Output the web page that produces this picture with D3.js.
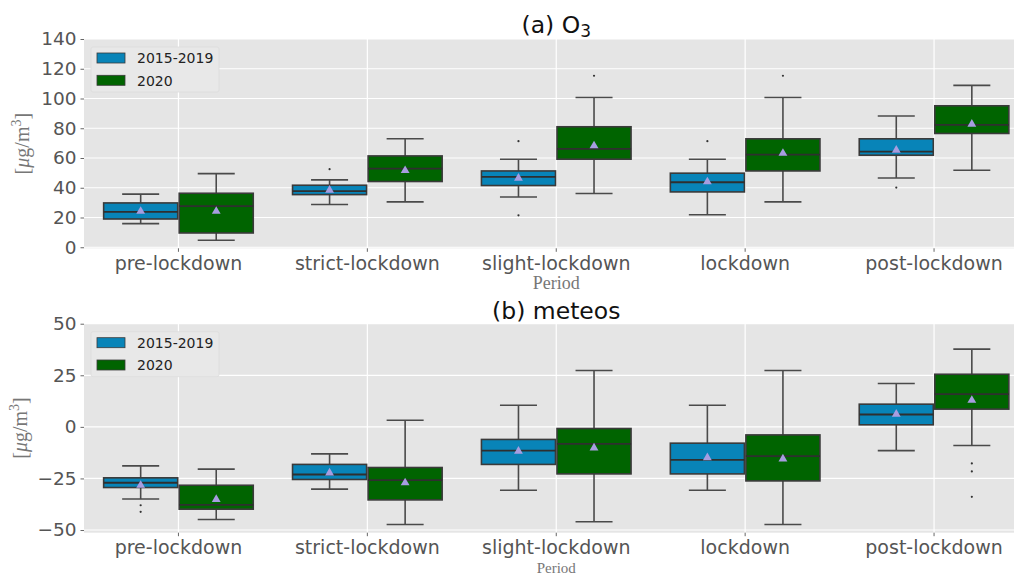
<!DOCTYPE html>
<html>
<head>
<meta charset="utf-8">
<script src="https://cdn.jsdelivr.net/npm/d3@7"></script>
<style>
  html, body { margin: 0; padding: 0; background: #fff; }
  svg { display: block; }
</style>
</head>
<body>
<svg id="chart" width="1014" height="574"></svg>
<script>
// Periods and series
const periods = ["pre-lockdown", "strict-lockdown", "slight-lockdown", "lockdown", "post-lockdown"];
const seriesNames = ["2015-2019", "2020"];
const seriesColors = ["#0884b8", "#006400"];

// Box statistics per period: [whiskerLow, q1, median, q3, whiskerHigh]
const o3Base  = [[15.9, 19.0, 23.8, 29.8, 35.7], [28.7, 35.4, 37.7, 41.7, 45.3], [33.8, 41.5, 47.3, 51.3, 59.2], [21.9, 37.2, 43.7, 49.8, 59.2], [46.6, 61.9, 64.3, 72.9, 88.2]];
const o3Y2020 = [[4.7, 9.6, 27.6, 36.3, 49.5], [30.5, 44.2, 52.9, 61.4, 72.9], [36.1, 59.2, 66.2, 81.0, 100.7], [30.5, 51.3, 62.3, 72.9, 100.7], [51.8, 76.5, 82.3, 95.1, 108.8]];
const o3BaseMean  = [24.2, 38.4, 46.4, 44.0, 65.3];
const o3Y2020Mean = [24.2, 51.6, 68.2, 63.2, 82.8];
const o3BaseOutliers  = [[], [52.5], [71.3, 21.5], [71.3], [40.1]];
const o3Y2020Outliers = [[], [], [115.3], [115.3], []];
const o3Ticks = [0, 20, 40, 60, 80, 100, 120, 140];

const metBase  = [[-35.0, -29.4, -27.1, -24.7, -18.9], [-30.2, -25.5, -23.1, -18.2, -13.1], [-30.7, -18.2, -11.5, -6.1, 10.5], [-30.7, -22.8, -16.0, -7.9, 10.5], [-11.5, 1.0, 6.0, 11.0, 21.0]];
const metY2020 = [[-44.9, -39.9, -37.8, -28.3, -20.5], [-47.3, -35.4, -25.8, -19.7, 3.2], [-46.0, -22.8, -8.2, -0.8, 27.3], [-47.3, -26.2, -14.2, -3.9, 27.3], [-9.0, 8.6, 15.9, 25.5, 37.7]];
const metBaseMean  = [-28.3, -22.3, -11.8, -14.9, 6.2];
const metY2020Mean = [-35.2, -27.1, -10.2, -15.5, 12.9];
const metBaseOutliers  = [[-38.0, -41.2], [], [], [], []];
const metY2020Outliers = [[], [], [], [], [-17.7, -21.6, -33.9]];
const metTicks = [-50, -25, 0, 25, 50];

const svg = d3.select("#chart");
const tickFont = "DejaVu Sans, sans-serif";
const serifFont = "Liberation Serif, DejaVu Serif, serif";

function drawPanel(cfg) {
  const { top, bottom, domain, ticks, stats, means, outliers, titleMain, titleSub, titleY,
          yLabelX, periodY, periodSize, tickLabelY, legendTop } = cfg;
  const left = 84, right = 1028.5;

  const x = d3.scaleBand().domain(periods).range([left, right]).paddingInner(0).paddingOuter(0);
  const xHue = d3.scaleBand().domain(seriesNames).range([0.1 * x.bandwidth(), 0.9 * x.bandwidth()]);
  const y = d3.scaleLinear().domain(domain).range([bottom, top]);

  const g = svg.append("g");

  // Plot background
  g.append("rect")
    .attr("x", left).attr("y", top)
    .attr("width", right - left).attr("height", bottom - top)
    .attr("fill", "#e5e5e5");

  // Grid lines
  g.append("g").selectAll("line").data(ticks).join("line")
    .attr("x1", left).attr("x2", right)
    .attr("y1", d => y(d)).attr("y2", d => y(d))
    .attr("stroke", "#fff").attr("stroke-width", 1.2);
  g.append("g").selectAll("line").data(periods).join("line")
    .attr("x1", d => x(d) + x.bandwidth() / 2).attr("x2", d => x(d) + x.bandwidth() / 2)
    .attr("y1", top).attr("y2", bottom)
    .attr("stroke", "#fff").attr("stroke-width", 1.2);

  // Axes
  const yAxis = d3.axisLeft(y).tickValues(ticks).tickSize(3.5).tickPadding(4)
    .tickFormat(d => d < 0 ? "\u2212" + Math.abs(d) : String(d));
  const ya = g.append("g").attr("transform", `translate(${left},0)`).call(yAxis);
  ya.select(".domain").remove();
  ya.selectAll(".tick line").attr("stroke", "#666");
  ya.selectAll(".tick text").attr("fill", "#555").style("font-family", tickFont).style("font-size", "18.5px");

  const xAxis = d3.axisBottom(x).tickSize(3.5).tickPadding(0);
  const xa = g.append("g").attr("transform", `translate(0,${bottom})`).call(xAxis);
  xa.select(".domain").remove();
  xa.selectAll(".tick line").attr("stroke", "#666");
  xa.selectAll(".tick text").attr("fill", "#555").attr("dy", null).attr("y", tickLabelY - bottom)
    .style("font-family", tickFont).style("font-size", "19px");

  // Boxes
  seriesNames.forEach((s, si) => {
    const boxW = xHue.bandwidth() * 0.98;
    const capW = boxW / 2;
    const sg = g.append("g");
    const rows = periods.map((p, i) => ({ p, st: stats[si][i], mean: means[si][i], out: outliers[si][i] }));
    const cx = d => x(d.p) + xHue(s) + xHue.bandwidth() / 2;

    const item = sg.selectAll("g").data(rows).join("g");
    // whiskers
    item.append("line").attr("x1", cx).attr("x2", cx)
      .attr("y1", d => y(d.st[0])).attr("y2", d => y(d.st[1]))
      .attr("stroke", "#4a4a4a").attr("stroke-width", 1.6);
    item.append("line").attr("x1", cx).attr("x2", cx)
      .attr("y1", d => y(d.st[3])).attr("y2", d => y(d.st[4]))
      .attr("stroke", "#4a4a4a").attr("stroke-width", 1.6);
    // caps
    [0, 4].forEach(k => {
      item.append("line")
        .attr("x1", d => cx(d) - capW / 2).attr("x2", d => cx(d) + capW / 2)
        .attr("y1", d => y(d.st[k])).attr("y2", d => y(d.st[k]))
        .attr("stroke", "#4a4a4a").attr("stroke-width", 1.6);
    });
    // box
    item.append("rect")
      .attr("x", d => cx(d) - boxW / 2).attr("width", boxW)
      .attr("y", d => y(d.st[3])).attr("height", d => y(d.st[1]) - y(d.st[3]))
      .attr("fill", seriesColors[si]).attr("stroke", "#3a3a3a").attr("stroke-width", 1.6);
    // median
    item.append("line")
      .attr("x1", d => cx(d) - boxW / 2).attr("x2", d => cx(d) + boxW / 2)
      .attr("y1", d => y(d.st[2])).attr("y2", d => y(d.st[2]))
      .attr("stroke", "#2f2f2f").attr("stroke-width", 1.8);
    // mean marker
    item.append("path")
      .attr("d", d3.symbol(d3.symbolTriangle, 34))
      .attr("transform", d => `translate(${cx(d)},${y(d.mean)})`)
      .attr("fill", "#a79de0");
    // outliers
    item.selectAll("circle").data(d => d.out.map(v => ({ v, c: cx(d) }))).join("circle")
      .attr("cx", d => d.c).attr("cy", d => y(d.v)).attr("r", 1.1)
      .attr("fill", "#333");
  });

  // Legend
  const lg = g.append("g").attr("transform", `translate(91,${legendTop})`);
  lg.append("rect").attr("width", 128).attr("height", 45).attr("rx", 2)
    .attr("fill", "#e8e8e8").attr("stroke", "#dcdcdc").attr("stroke-width", 0.8);
  seriesNames.forEach((s, i) => {
    lg.append("rect").attr("x", 6).attr("y", 6 + i * 22.3).attr("width", 28).attr("height", 10)
      .attr("fill", seriesColors[i]).attr("stroke", "#3a3a3a").attr("stroke-width", 0.8);
    lg.append("text").attr("x", 46).attr("y", 16.3 + i * 22.3).text(s)
      .attr("fill", "#222").style("font-family", tickFont).style("font-size", "14px");
  });

  // Title
  const t = g.append("text").attr("x", (left + right) / 2).attr("y", titleY)
    .attr("text-anchor", "middle").attr("fill", "#111")
    .style("font-family", tickFont).style("font-size", "23.5px");
  t.append("tspan").text(titleMain);
  if (titleSub) t.append("tspan").text(titleSub).attr("dy", 4).style("font-size", "17px");

  // Axis labels
  g.append("text").attr("transform", `translate(${yLabelX},${(top + bottom) / 2}) rotate(-90)`)
    .attr("text-anchor", "middle").attr("fill", "#777")
    .style("font-family", serifFont).style("font-size", "20px")
    .call(tx => {
      tx.append("tspan").text("[");
      tx.append("tspan").text("\u03bc").style("font-style", "italic");
      tx.append("tspan").text("g/m");
      tx.append("tspan").text("3").attr("dy", -8).style("font-size", "14px");
      tx.append("tspan").text("]").attr("dy", 8);
    });
  g.append("text").attr("x", (left + right) / 2).attr("y", periodY)
    .attr("text-anchor", "middle").attr("fill", "#777")
    .style("font-family", serifFont).style("font-size", periodSize + "px")
    .text("Period");
}

drawPanel({
  top: 39, bottom: 248.3, domain: [-0.7, 140], ticks: o3Ticks,
  stats: [o3Base, o3Y2020], means: [o3BaseMean, o3Y2020Mean], outliers: [o3BaseOutliers, o3Y2020Outliers],
  titleMain: "(a) O", titleSub: "3", titleY: 33, yLabelX: 29, periodY: 289, periodSize: 18,
  tickLabelY: 270, legendTop: 47
});

drawPanel({
  top: 323.3, bottom: 532.7, domain: [-51.3, 50.2], ticks: metTicks,
  stats: [metBase, metY2020], means: [metBaseMean, metY2020Mean], outliers: [metBaseOutliers, metY2020Outliers],
  titleMain: "(b) meteos", titleSub: null, titleY: 319, yLabelX: 27, periodY: 572.5, periodSize: 15,
  tickLabelY: 554, legendTop: 331.7
});
</script>
</body>
</html>
